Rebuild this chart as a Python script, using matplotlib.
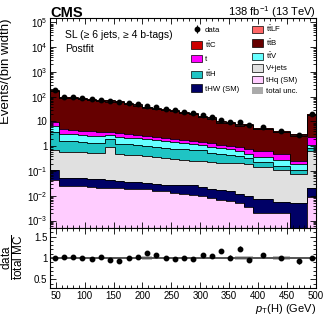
import numpy as np
import matplotlib
matplotlib.use("Agg")
import matplotlib.pyplot as plt
from matplotlib.patches import Patch
from matplotlib.ticker import MultipleLocator, LogLocator, FixedLocator, FixedFormatter, NullFormatter

plt.rcParams['font.family'] = ['Liberation Sans', 'DejaVu Sans']
plt.rcParams['mathtext.fontset'] = 'custom'
plt.rcParams['mathtext.rm'] = 'Liberation Sans'
plt.rcParams['mathtext.it'] = 'Liberation Sans:italic'
plt.rcParams['mathtext.bf'] = 'Liberation Sans:bold'

#bin edges in pT(H) (GeV), 26 bins
bin_edges = [40, 56, 72, 88, 104, 120, 136, 152, 168, 184, 200, 216, 232, 248,
             264, 280, 296, 312, 328, 344, 360, 376, 392, 425, 455, 485, 500]

#postfit yields per bin width
tHq = [0.045, 0.025, 0.025, 0.024, 0.023, 0.021, 0.020, 0.020, 0.019, 0.018, 0.018, 0.016, 0.015,
       0.013, 0.012, 0.011, 0.0095, 0.008, 0.0068, 0.006, 0.005, 0.0036, 0.0021, 0.0021, 0.0, 0.0086]
tHW = [0.065, 0.029, 0.027, 0.026, 0.025, 0.025, 0.023, 0.021, 0.018, 0.017, 0.016, 0.014, 0.013,
       0.014, 0.014, 0.017, 0.0125, 0.011, 0.0102, 0.009, 0.007, 0.0062, 0.0054, 0.0034, 0.005, 0.0124]
vjets = [0.59, 0.55, 0.53, 0.52, 0.50, 0.47, 0.86, 0.46, 0.42, 0.40, 0.37, 0.34, 0.31,
         0.28, 0.25, 0.23, 0.23, 0.21, 0.20, 0.20, 0.20, 0.19, 0.14, 0.10, 0.07, 0.61]
ttH = [3.0, 1.04, 1.02, 0.93, 0.85, 0.83, 1.1, 0.75, 0.74, 0.67, 0.65, 0.58, 0.54,
       0.49, 0.47, 0.42, 0.45, 0.32, 0.28, 0.24, 0.19, 0.12, 0.08, 0.05, 0.035, 0.2]
ttV = [2.7, 1.46, 1.4, 1.3, 1.2, 1.15, 0.8, 1.05, 1.0, 1.0, 0.85, 0.8, 0.72,
       0.65, 0.6, 0.52, 0.45, 0.4, 0.35, 0.3, 0.25, 0.18, 0.15, 0.11, 0.08, 0.27]
single_t = [3.0, 1.8, 1.7, 1.5, 1.4, 1.1, 1.0, 1.0, 0.9, 0.8, 0.7, 0.65, 0.6,
            0.55, 0.5, 0.45, 0.35, 0.35, 0.3, 0.25, 0.25, 0.28, 0.27, 0.2, 0.07, 1.2]
ttB = [163, 82, 80, 75, 70, 62, 60, 57, 46.4, 41.2, 33.4, 30, 27.5,
       24.5, 20.6, 17.7, 13.8, 11.7, 7.85, 7.45, 5.9, 6.15, 4.4, 3.3, 2.44, 15.7]
ttLF = [4, 1.9, 1.9, 1.8, 1.6, 1.5, 1.4, 1.3, 1.1, 1.0, 0.8, 0.7, 0.7,
        0.6, 0.5, 0.4, 0.3, 0.3, 0.2, 0.19, 0.15, 0.15, 0.11, 0.08, 0.06, 0.4]
ttC = [15, 7.8, 7.5, 7.0, 6.6, 5.8, 5.7, 5.4, 4.4, 3.9, 3.2, 2.9, 2.6,
       2.4, 2.0, 1.7, 1.4, 1.2, 0.8, 0.75, 0.6, 0.6, 0.45, 0.34, 0.24, 1.6]

data = [190, 100, 97, 88, 80, 75, 68, 62, 55, 50, 44, 38, 33,
        29, 25, 21, 18, 15, 11.5, 9.6, 9.2, 7.4, 6.0, 4.2, 2.8, 20]

#ratio panel values
ratio = [0.99, 1.03, 1.03, 1.0, 0.98, 1.03, 0.96, 0.92, 1.01, 1.03, 1.11, 1.06, 1.01,
         0.98, 1.01, 0.98, 1.07, 1.04, 1.17, 1.01, 1.22, 0.96, 1.07, 1.01, 0.92, 1.0]
ratio_err = [0.01, 0.015, 0.015, 0.015, 0.015, 0.02, 0.02, 0.02, 0.02, 0.025, 0.03, 0.03, 0.03,
             0.03, 0.035, 0.035, 0.04, 0.04, 0.05, 0.05, 0.06, 0.05, 0.04, 0.045, 0.06, 0.03]
total_unc = [0.02, 0.015, 0.015, 0.015, 0.015, 0.015, 0.02, 0.02, 0.015, 0.02, 0.04, 0.02, 0.02,
             0.02, 0.02, 0.02, 0.02, 0.02, 0.025, 0.025, 0.05, 0.05, 0.03, 0.05, 0.03, 0.02]

#stack order from bottom to top
stack = [
    (tHq, "#ffccff", "tHq (SM)"),
    (tHW, "#000066", "tHW (SM)"),
    (vjets, "#e0e0e0", "V+jets"),
    (ttH, "#1fc4c4", r"$\mathrm{t\bar{t}H}$"),
    (ttV, "#66ffff", r"$\mathrm{t\bar{t}V}$"),
    (single_t, "#ff00ff", "t"),
    (ttB, "#660000", r"$\mathrm{t\bar{t}B}$"),
    (ttLF, "#ff6666", r"$\mathrm{t\bar{t}LF}$"),
    (ttC, "#cc0000", r"$\mathrm{t\bar{t}C}$"),
]

edges = np.array(bin_edges, dtype=float)
centres = 0.5 * (edges[1:] + edges[:-1])

fig = plt.figure(figsize=(3.32, 3.25), dpi=100)
ax = fig.add_axes([0.1506, 0.2985, 0.801, 0.646])
ax2 = fig.add_axes([0.1506, 0.1138, 0.801, 0.1847], sharex=ax)

#-----main panel: stacked histograms-----#
lower = np.full(len(centres), 1e-6)
tops = []
handles = {}
for values, colour, label in stack:
    upper = lower + np.array(values)
    ax.stairs(upper, edges, baseline=lower, fill=True, color=colour, lw=0)
    tops.append(upper)
    handles[label] = Patch(facecolor=colour, edgecolor="black", lw=0.5)
    lower = upper
for upper in tops:
    ax.stairs(upper, edges, color="black", lw=0.6)

data = np.array(data)
data_err = data * np.array(ratio_err)
data_handle = ax.errorbar(centres, data, yerr=data_err, fmt="o", color="black",
                          ms=3.2, elinewidth=0.8, capsize=0)

ax.set_yscale("log")
ax.set_ylim(5e-4, 1.5e5)
ax.set_xlim(40, 500)
decades = [1e-3, 1e-2, 1e-1, 1, 10, 1e2, 1e3, 1e4, 1e5]
ax.yaxis.set_major_locator(FixedLocator(decades))
ax.yaxis.set_major_formatter(FixedFormatter([r"$10^{-3}$", r"$10^{-2}$", r"$10^{-1}$", "1", "10",
                                             r"$10^{2}$", r"$10^{3}$", r"$10^{4}$", r"$10^{5}$"]))
ax.yaxis.set_minor_locator(LogLocator(base=10, subs=np.arange(2, 10), numticks=20))
ax.yaxis.set_minor_formatter(NullFormatter())
ax.set_ylabel("Events/(bin width)", fontsize=9.5, loc="top")
ax.yaxis.set_label_coords(-0.142, 1.0)
plt.setp(ax.get_xticklabels(), visible=False)

for a in (ax, ax2):
    a.xaxis.set_major_locator(MultipleLocator(50))
    a.xaxis.set_minor_locator(MultipleLocator(10))
    a.tick_params(which="both", direction="in", top=True, right=True, labelsize=7, width=0.6, pad=2)
    a.tick_params(which="major", length=4.5)
    a.tick_params(which="minor", length=2.2)
    for s in a.spines.values():
        s.set_linewidth(0.8)

#-----legends-----#
left_labels = [r"$\mathrm{t\bar{t}C}$", "t", r"$\mathrm{t\bar{t}H}$", "tHW (SM)"]
leg1 = fig.legend([data_handle] + [handles[l] for l in left_labels], ["data"] + left_labels,
                  loc="upper left", bbox_to_anchor=(0.575, 0.921), frameon=False, fontsize=5.6,
                  handlelength=1.45, handleheight=1.1, labelspacing=0.67, handletextpad=0.35,
                  borderpad=0, borderaxespad=0)
right_labels = [r"$\mathrm{t\bar{t}LF}$", r"$\mathrm{t\bar{t}B}$", r"$\mathrm{t\bar{t}V}$", "V+jets", "tHq (SM)"]
unc_handle = Patch(facecolor="#aaaaaa", edgecolor="none")
leg2 = fig.legend([handles[l] for l in right_labels] + [unc_handle], right_labels + ["total unc."],
                  loc="upper left", bbox_to_anchor=(0.759, 0.927), frameon=False, fontsize=5.6,
                  handlelength=1.45, handleheight=1.1, labelspacing=0.39, handletextpad=0.35,
                  borderpad=0, borderaxespad=0)

#-----text labels-----#
fig.text(0.1506, 0.949, "CMS", fontsize=10.5, fontweight="bold", va="baseline", ha="left")
fig.text(0.952, 0.951, r"138 fb$^{-1}$ (13 TeV)", fontsize=8, va="baseline", ha="right")
fig.text(0.196, 0.883, "SL (≥ 6 jets, ≥ 4 b-tags)", fontsize=7.5, va="baseline")
fig.text(0.196, 0.840, "Postfit", fontsize=7.5, va="baseline")

#-----ratio panel-----#
ratio = np.array(ratio)
unc = np.array(total_unc)
ax2.stairs(1 + unc, edges, baseline=1 - unc, fill=True, color="#bbbbbb", lw=0)
ax2.axhline(1, color="#444444", lw=1.2)
ax2.errorbar(centres, ratio, yerr=ratio_err, fmt="o", color="black", ms=3.2, elinewidth=0.8, capsize=0)
ax2.set_ylim(0.3, 1.7)
ax2.yaxis.set_major_locator(FixedLocator([0.5, 1, 1.5]))
ax2.yaxis.set_major_formatter(FixedFormatter(["0.5", "1", "1.5"]))
ax2.yaxis.set_minor_locator(MultipleLocator(0.1))
ax2.set_xlabel(r"$p_{\mathrm{T}}$(H) (GeV)", fontsize=8, loc="right", labelpad=1)
fig.text(0.037, 0.21, r"$\dfrac{\mathrm{data}}{\mathrm{total\ MC}}$", fontsize=8.5,
         rotation=90, ha="center", va="center")

fig.savefig("out.png", dpi=100)
